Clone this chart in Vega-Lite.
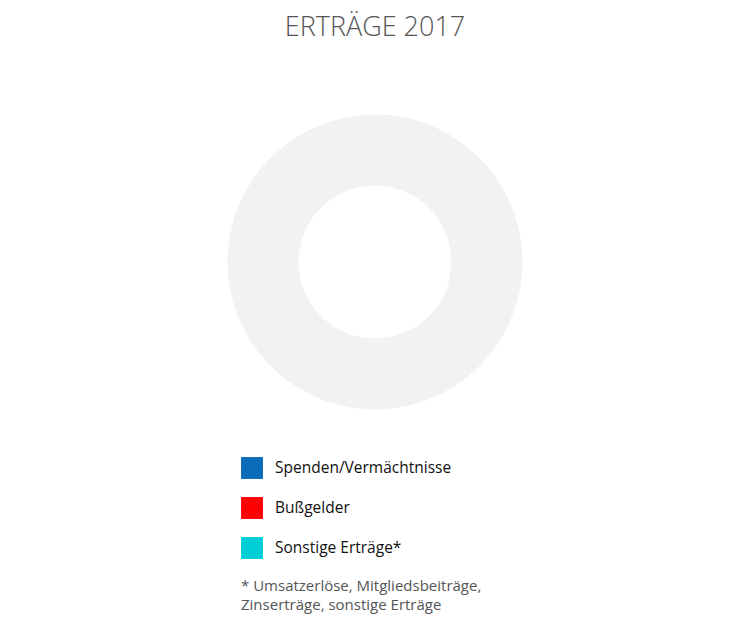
{
  "$schema": "https://vega.github.io/schema/vega-lite/v6.json",
  "autosize": {"type": "none"},
  "padding": {"left": 0, "top": 50, "right": 0, "bottom": 151},
  "width": 750,
  "height": 424,
  "background": "white",
  "title": {
    "text": "ERTRÄGE 2017",
    "font": "Open Sans",
    "fontSize": 27,
    "fontWeight": 300,
    "color": "#555555",
    "anchor": "middle",
    "offset": 8
  },
  "data": {
    "values": [
      {"Kategorie": "Spenden/Vermächtnisse", "Anteil": 70},
      {"Kategorie": "Bußgelder", "Anteil": 10},
      {"Kategorie": "Sonstige Erträge*", "Anteil": 20}
    ]
  },
  "config": {"view": {"stroke": null}},
  "layer": [
    {
      "mark": {"type": "arc", "radius": 147, "radius2": 77, "fill": "#f2f2f2", "stroke": "#f2f2f2", "strokeWidth": 1},
      "encoding": {
        "theta": {"field": "Anteil", "type": "quantitative", "stack": true}
      }
    },
    {
      "mark": {"type": "arc", "radius": 147, "radius2": 77, "opacity": 0},
      "encoding": {
        "theta": {"field": "Anteil", "type": "quantitative", "stack": true},
        "color": {
          "field": "Kategorie",
          "type": "nominal",
          "sort": null,
          "scale": {
            "domain": ["Spenden/Vermächtnisse", "Bußgelder", "Sonstige Erträge*"],
            "range": ["#0a6cb9", "#ff0000", "#00ced6"]
          },
          "legend": {
            "orient": "none",
            "legendX": 241,
            "legendY": 407,
            "direction": "vertical",
            "symbolType": "square",
            "symbolSize": 480,
            "symbolOpacity": 1,
            "symbolStrokeWidth": 0,
            "labelFont": "Open Sans",
            "labelFontSize": 15.5,
            "labelColor": "#111111",
            "labelOffset": 12,
            "rowPadding": 18,
            "labelLimit": 400,
            "title": ["* Umsatzerlöse, Mitgliedsbeiträge,", "Zinserträge, sonstige Erträge"],
            "titleOrient": "bottom",
            "titleFont": "Open Sans",
            "titleFontSize": 15,
            "titleFontWeight": "normal",
            "titleColor": "#555555",
            "titleLineHeight": 19,
            "titlePadding": 20,
            "titleLimit": 400
          }
        }
      }
    }
  ]
}
